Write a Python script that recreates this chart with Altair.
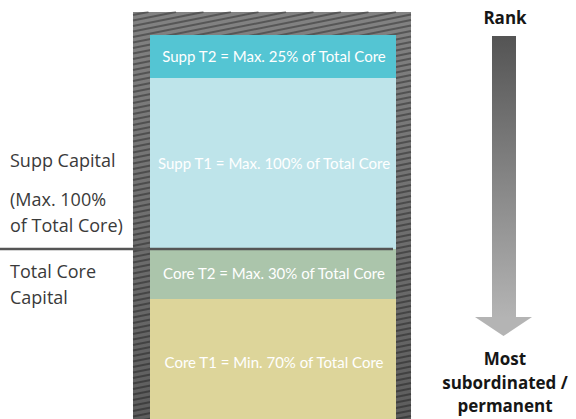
import altair as alt
import pandas as pd

# Capital tiers, listed from the bottom of the column to the top
tiers = ["Core T1", "Core T2", "Supp T1", "Supp T2"]
tier_labels = [
    "Core T1 = Min. 70% of Total Core",
    "Core T2 = Max. 30% of Total Core",
    "Supp T1 = Max. 100% of Total Core",
    "Supp T2 = Max. 25% of Total Core",
]
tier_heights = [128, 50, 171, 43]
tier_groups = ["core", "core", "supp", "supp"]
tier_colors = ["#ddd59a", "#abc5ab", "#bee4ea", "#54c5d3"]

column_height = 415

supp_title = "Supp Capital"
supp_note = ["(Max. 100%", "of Total Core)"]
core_title = ["Total Core", "Capital"]
rank_title = "Rank"
rank_end = ["Most", "subordinated /", "permanent"]

LABEL_FONT = "Lato"
SIDE_FONT = "Open Sans"

yscale = alt.Scale(domain=[0, 427], range=[427, 0], nice=False, zero=False)


def gstop(offset, color):
    return alt.GradientStop(offset=offset, color=color)


# diagonal hatching strokes across the column backdrop (texture only)
COL_LEFT, COL_RIGHT = 133, 411
HATCH_STEP, HATCH_SLOPE = 5.5, 0.2


def hatch_strokes():
    rows = []
    rise = HATCH_SLOPE * (COL_RIGHT - COL_LEFT)
    v0 = -rise
    while v0 < column_height:
        xa, va = COL_LEFT, v0
        xb, vb = COL_RIGHT, v0 + rise
        if va < 0:
            xa = COL_LEFT + (0 - v0) / HATCH_SLOPE
            va = 0
        if vb > column_height:
            xb = COL_LEFT + (column_height - v0) / HATCH_SLOPE
            vb = column_height
        rows.append({"xa": xa, "va": va, "xb": xb, "vb": vb})
        v0 += HATCH_STEP
    return pd.DataFrame(rows)


tiers_df = pd.DataFrame({
    "tier": tiers,
    "label": tier_labels,
    "height": tier_heights,
    "group": tier_groups,
    "order": list(range(len(tiers))),
})

stacked = (
    alt.Chart(tiers_df)
    .transform_window(top="sum(height)", sort=[alt.SortField("order")], frame=[None, 0])
    .transform_calculate(bottom="datum.top - datum.height",
                         mid="(datum.top + datum.bottom) / 2")
)

column_df = pd.DataFrame({"top": [column_height], "base": [0]})

backdrop = alt.Chart(column_df).mark_rect(
    fill=alt.LinearGradient(gradient="linear", x1=0, y1=0, x2=0, y2=1,
                            stops=[gstop(0, "#828282"), gstop(1, "#5c5c5c")])
).encode(
    x=alt.value(COL_LEFT), x2=alt.value(COL_RIGHT),
    y=alt.Y("top:Q", scale=yscale, axis=None), y2="base:Q",
)

hatch = alt.Chart(hatch_strokes()).mark_rule(
    color="#000000", strokeWidth=2, opacity=0.33
).encode(
    x=alt.X("xa:Q", scale=None, axis=None), x2="xb:Q",
    y=alt.Y("va:Q", scale=yscale, axis=None), y2="vb:Q",
)

bars = stacked.mark_rect().encode(
    x=alt.value(150), x2=alt.value(396),
    y=alt.Y("bottom:Q", scale=yscale, axis=None), y2="top:Q",
    fill=alt.Fill("tier:N", scale=alt.Scale(domain=tiers, range=tier_colors), legend=None),
)

bar_text = stacked.mark_text(
    color="white", font=LABEL_FONT, fontSize=15, baseline="middle", align="center"
).encode(
    x=alt.value(274),
    y=alt.Y("mid:Q", scale=yscale, axis=None),
    text="label:N",
)

# line between the core tiers and the supplementary tiers
boundary = (
    alt.Chart(tiers_df)
    .transform_filter(alt.datum.group == "core")
    .transform_aggregate(level="sum(height)")
    .mark_rule(color="#555555", strokeWidth=2.5)
    .encode(x=alt.value(0), x2=alt.value(393),
            y=alt.Y("level:Q", scale=yscale, axis=None))
)

one = pd.DataFrame({"k": [0]})


def side_text(text, x, y, **kw):
    style = dict(font=SIDE_FONT, fontSize=18, color="#3a3a3a", align="left",
                 baseline="middle")
    style.update(kw)
    return alt.Chart(one).mark_text(text=text, **style).encode(
        x=alt.value(x), y=alt.value(y))


left_labels = [
    side_text(supp_title, 10, 162),
    side_text(supp_note[0], 10, 201),
    side_text(supp_note[1], 10, 227),
    side_text(core_title[0], 10, 273),
    side_text(core_title[1], 10, 299),
]

bold = dict(fontWeight="bold", fontSize=17, color="#161616", align="center")
right_labels = [
    side_text(rank_title, 505, 19, **bold),
    side_text(rank_end[0], 505, 360, **bold),
    side_text(rank_end[1], 505, 384, **bold),
    side_text(rank_end[2], 505, 407, **bold),
]

shaft = alt.Chart(one).mark_rect(
    fill=alt.LinearGradient(gradient="linear", x1=0, y1=0, x2=0, y2=1,
                            stops=[gstop(0, "#545454"), gstop(1, "#b4b4b4")])
).encode(x=alt.value(492), x2=alt.value(516), y=alt.value(36), y2=alt.value(318))

head = alt.Chart(one).mark_point(
    shape="M -1 -0.333 L 1 -0.333 L 0 0.333 Z", size=3249,
    filled=True, fill="#b4b4b4", opacity=1, strokeWidth=0,
).encode(x=alt.value(503.5), y=alt.value(326.5))

chart = alt.layer(
    backdrop, hatch, bars, bar_text, boundary, shaft, head,
    *left_labels, *right_labels,
).properties(
    width=576, height=419, padding=0, autosize="none", background="white",
).configure_view(stroke=None)

chart.save("out.html", embed_options={"renderer": "svg", "actions": False})
